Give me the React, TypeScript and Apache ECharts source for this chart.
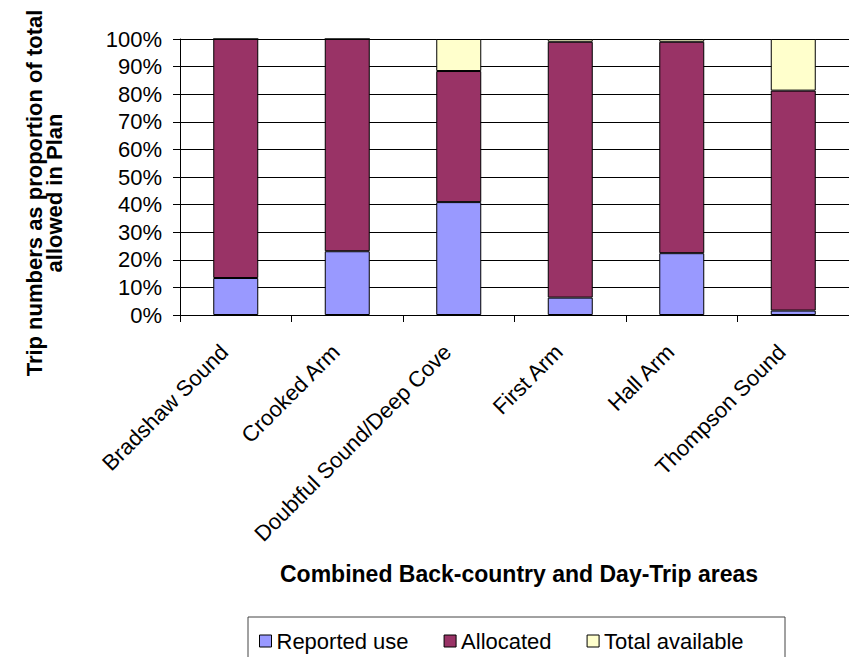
import React, { useEffect, useRef } from "react";
import * as echarts from "echarts";

// Areas along the x axis
const areas = [
  "Bradshaw Sound",
  "Crooked Arm",
  "Doubtful Sound/Deep Cove",
  "First Arm",
  "Hall Arm",
  "Thompson Sound",
];

// Share of the planned total (%) for each stacked segment
const reportedUse = [13.4, 23.1, 40.9, 6.3, 22.4, 1.6];
const allocated = [86.6, 76.9, 47.5, 92.7, 76.6, 79.7];
const totalAvailable = [0, 0, 11.6, 1.0, 1.0, 18.7];

const yTicks = { min: 0, max: 100, interval: 10 };

const FONT = "'Liberation Sans', Arial, sans-serif";

export default function App() {
  const ref = useRef<HTMLDivElement | null>(null);

  useEffect(() => {
    if (!ref.current) return;
    const chart = echarts.init(ref.current, undefined, { renderer: "svg" });

    const barStyle = (color: string) => ({
      color,
      borderColor: "#000",
      borderWidth: 1,
    });

    chart.setOption({
      animation: false,
      backgroundColor: "#fff",
      textStyle: { fontFamily: FONT },
      grid: { left: 180, top: 39, right: -6, bottom: 342, containLabel: false },
      xAxis: {
        type: "category",
        data: areas,
        axisLine: { show: true, lineStyle: { color: "#000", width: 1 } },
        axisTick: {
          show: true,
          length: 7,
          interval: 0,
          alignWithLabel: false,
          lineStyle: { color: "#000" },
        },
        axisLabel: {
          interval: 0,
          rotate: 45,
          margin: 22,
          padding: [0, 16, 0, 0],
          fontSize: 22,
          color: "#000",
          fontFamily: FONT,
        },
        splitLine: { show: false },
      },
      yAxis: {
        type: "value",
        min: yTicks.min,
        max: yTicks.max,
        interval: yTicks.interval,
        axisLine: { show: true, lineStyle: { color: "#000", width: 1 } },
        axisTick: { show: true, length: 7, lineStyle: { color: "#000" } },
        axisLabel: {
          formatter: "{value}%",
          margin: 18,
          fontSize: 22,
          color: "#000",
          fontFamily: FONT,
        },
        splitLine: { show: true, lineStyle: { color: "#000", width: 1 } },
      },
      legend: {
        data: ["Reported use", "Allocated", "Total available"],
        left: 254,
        top: 625,
        orient: "horizontal",
        icon: "rect",
        itemWidth: 12,
        itemHeight: 12,
        itemGap: 35,
        itemStyle: { borderColor: "#000", borderWidth: 1 },
        textStyle: { fontSize: 22, color: "#000", fontFamily: FONT },
      },
      graphic: [
        {
          type: "rect",
          z: -1,
          shape: { x: 248, y: 617, width: 537, height: 60 },
          style: { fill: "#fff", stroke: "#444", lineWidth: 1 },
        },
        {
          type: "text",
          x: 519,
          y: 574,
          style: {
            text: "Combined Back-country and Day-Trip areas",
            fontSize: 23,
            fontWeight: "bold",
            fontFamily: FONT,
            fill: "#000",
            align: "center",
            verticalAlign: "middle",
          },
        },
        {
          type: "text",
          x: 44,
          y: 193,
          rotation: Math.PI / 2,
          style: {
            text: "Trip numbers as proportion of total\nallowed in Plan",
            fontSize: 22,
            lineHeight: 20,
            fontWeight: "bold",
            fontFamily: FONT,
            fill: "#000",
            align: "center",
            verticalAlign: "middle",
          },
        },
      ],
      series: [
        {
          name: "Reported use",
          type: "bar",
          stack: "share",
          barWidth: 45,
          data: reportedUse,
          itemStyle: barStyle("#9999FF"),
        },
        {
          name: "Allocated",
          type: "bar",
          stack: "share",
          barWidth: 45,
          data: allocated,
          itemStyle: barStyle("#993366"),
        },
        {
          name: "Total available",
          type: "bar",
          stack: "share",
          barWidth: 45,
          data: totalAvailable,
          itemStyle: barStyle("#FFFFCC"),
        },
      ],
    });

    return () => chart.dispose();
  }, []);

  return (
    <div
      ref={ref}
      style={{ position: "absolute", left: 0, top: 0, width: 849, height: 657 }}
    />
  );
}
